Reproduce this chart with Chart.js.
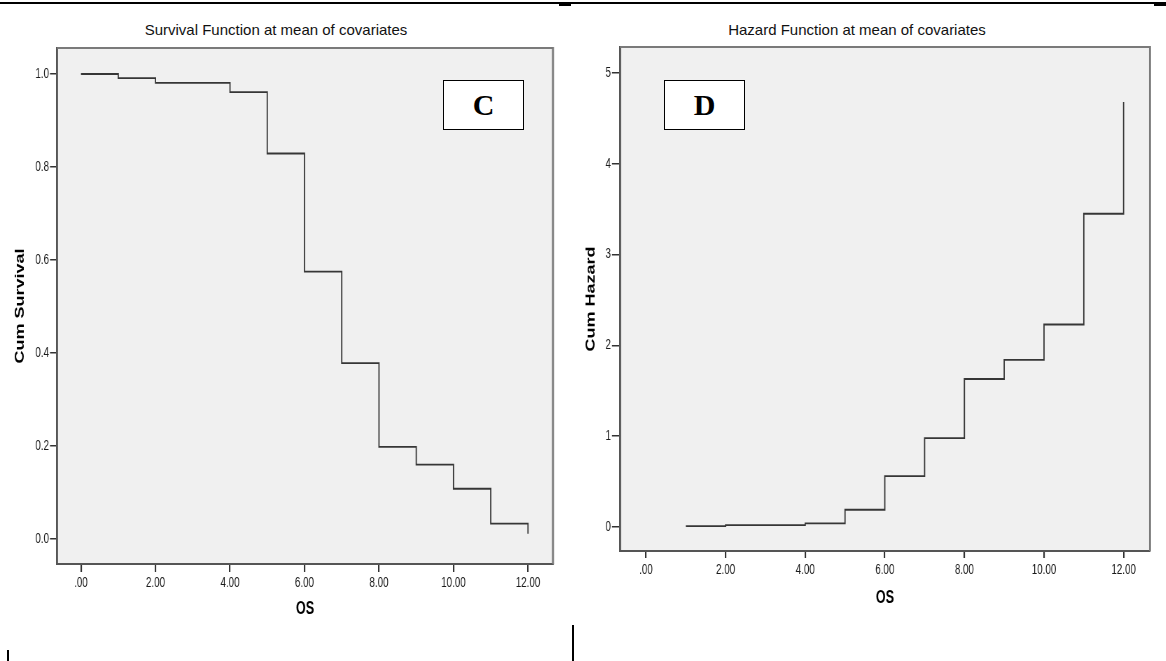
<!DOCTYPE html>
<html>
<head>
<meta charset="utf-8">
<title>Survival and Hazard Function at mean of covariates</title>
<script src="https://cdn.jsdelivr.net/npm/chart.js@4.4.1/dist/chart.umd.min.js"></script>
<style>
  body { margin: 0; background: #fff; width: 1166px; height: 661px; overflow: hidden; position: relative; font-family: "Liberation Sans", Arial, sans-serif; }
  .rule { position: absolute; background: #000; }
  canvas { position: absolute; top: 0; transform: scaleX(0.7); transform-origin: 0 0; }
  .title { position: absolute; top: 21px; font-size: 15px; line-height: 18px; color: #111; white-space: nowrap; transform: translateX(-50%); }
  .tag { position: absolute; top: 80px; width: 81px; height: 50px; box-sizing: border-box; border: 1.5px solid #000; background: #fff;
         font: bold 30px "Liberation Serif", "Times New Roman", serif; text-align: center; line-height: 47px; color: #000; }
</style>
</head>
<body>
<div class="rule" style="left:0;top:2px;width:1166px;height:2px"></div>
<div class="rule" style="left:559px;top:4px;width:12px;height:2px"></div>
<div class="rule" style="left:1154px;top:4px;width:12px;height:2px"></div>
<div class="rule" style="left:7px;top:650px;width:2px;height:11px"></div>
<div class="rule" style="left:572px;top:625px;width:2px;height:36px"></div>

<div class="title" style="left:276px">Survival Function at mean of covariates</div>
<div class="title" style="left:857px">Hazard Function at mean of covariates</div>

<canvas id="survivalChart" width="830" height="625" style="left:0"></canvas>
<canvas id="hazardChart" width="844" height="625" style="left:575px"></canvas>

<div class="tag" style="left:443px">C</div>
<div class="tag" style="left:664px">D</div>

<script>
// values
const survTimes = [0, 1, 2, 4, 5, 6, 7, 8, 9, 10, 11, 12];
const survValues = [1.0, 0.991, 0.981, 0.961, 0.829, 0.575, 0.378, 0.198, 0.160, 0.108, 0.033, 0.011];
const hazTimes = [1, 2, 4, 5, 6, 7, 8, 9, 10, 11, 12];
const hazValues = [0.01, 0.02, 0.04, 0.19, 0.56, 0.98, 1.63, 1.84, 2.23, 3.45, 4.68];
const osTicks = [0, 2, 4, 6, 8, 10, 12];
const survTicks = [0, 0.2, 0.4, 0.6, 0.8, 1.0];
const hazTicks = [0, 1, 2, 3, 4, 5];

const FONT = "'Liberation Sans', Arial, sans-serif";
const SQUEEZE = 0.7; // canvases are squeezed horizontally by CSS

// grey plot area with a frame on top and right
const framePlugin = {
    id: "frame",
    beforeDraw(chart) {
        const { ctx, chartArea: a } = chart;
        ctx.save();
        ctx.fillStyle = "#f0f0f0";
        ctx.fillRect(a.left, a.top, a.right - a.left, a.bottom - a.top);
        ctx.restore();
    },
    afterDraw(chart) {
        const { ctx, chartArea: a } = chart;
        ctx.save();
        ctx.strokeStyle = "#7a7a7a";
        ctx.lineWidth = 2;
        ctx.beginPath();
        ctx.moveTo(a.left, a.top);
        ctx.lineTo(a.right, a.top);
        ctx.stroke();
        ctx.lineWidth = 2 / SQUEEZE;
        ctx.beginPath();
        ctx.moveTo(a.right, a.top - 1);
        ctx.lineTo(a.right, a.bottom);
        ctx.stroke();
        ctx.restore();
    }
};

function createPanel(canvasId, xs, ys, yTicks, yLabel, yFormat, box) {
    const ctx = document.getElementById(canvasId).getContext("2d");
    return new Chart(ctx, {
        type: "line",
        data: {
            datasets: [{
                data: xs.map((x, i) => ({ x: x, y: ys[i] })),
                stepped: true,
                borderColor: "#363636",
                borderWidth: 1.8,
                pointRadius: 0,
                fill: false
            }]
        },
        options: {
            responsive: false,
            animation: false,
            events: [],
            layout: { padding: { left: 0, top: box.top, right: box.right, bottom: 0 } },
            plugins: {
                legend: { display: false },
                tooltip: { enabled: false }
            },
            scales: {
                x: {
                    type: "linear",
                    min: box.xMin,
                    max: box.xMax,
                    afterFit: s => { s.height = box.xAxisH; },
                    afterBuildTicks: s => { s.ticks = osTicks.map(v => ({ value: v })); },
                    ticks: {
                        autoSkip: false,
                        maxRotation: 0,
                        padding: box.xPad,
                        color: "#1a1a1a",
                        font: { family: FONT, size: 14 },
                        callback: v => v === 0 ? ".00" : v.toFixed(2)
                    },
                    grid: { drawOnChartArea: false, drawTicks: true, tickLength: box.xTick, color: "#333", lineWidth: 1.5 / SQUEEZE },
                    border: { display: true, color: "#555", width: 2 },
                    title: { display: true, text: "OS", color: "#000", font: { family: FONT, size: 18, weight: "bold" }, padding: { top: 0, bottom: box.osPad } }
                },
                y: {
                    type: "linear",
                    min: box.yMin,
                    max: box.yMax,
                    afterFit: s => { s.width = box.yAxisW; },
                    afterBuildTicks: s => { s.ticks = yTicks.map(v => ({ value: v })); },
                    ticks: {
                        autoSkip: false,
                        padding: box.yPad,
                        color: "#1a1a1a",
                        font: { family: FONT, size: 14 },
                        callback: yFormat
                    },
                    grid: { drawOnChartArea: false, drawTicks: true, tickLength: box.yTick, color: "#333", lineWidth: 1.5 },
                    border: { display: true, color: "#555", width: 2 / SQUEEZE },
                    title: { display: true, text: yLabel, color: "#000", font: { family: FONT, size: 18, weight: "bold" }, padding: { top: box.yTitlePad, bottom: 0 } }
                }
            }
        },
        plugins: [framePlugin]
    });
}

createPanel("survivalChart", survTimes, survValues, survTicks, "Cum Survival", v => v.toFixed(1), {
    top: 48, right: 40, xAxisH: 61, yAxisW: 81.4,
    xMin: -0.644, xMax: 12.671, yMin: -0.0538, yMax: 1.0559,
    xPad: 2.5, xTick: 8, osPad: 5,
    yPad: 1.4, yTick: 10, yTitlePad: 17.8
});

createPanel("hazardChart", hazTimes, hazValues, hazTicks, "Cum Hazard", v => String(v), {
    top: 47, right: 22.6, xAxisH: 74, yAxisW: 64.3,
    xMin: -0.653, xMax: 12.663, yMin: -0.264, yMax: 5.286,
    xPad: 4, xTick: 7, osPad: 16.2,
    yPad: 1.4, yTick: 11.5, yTitlePad: 12.5
});
</script>
</body>
</html>
